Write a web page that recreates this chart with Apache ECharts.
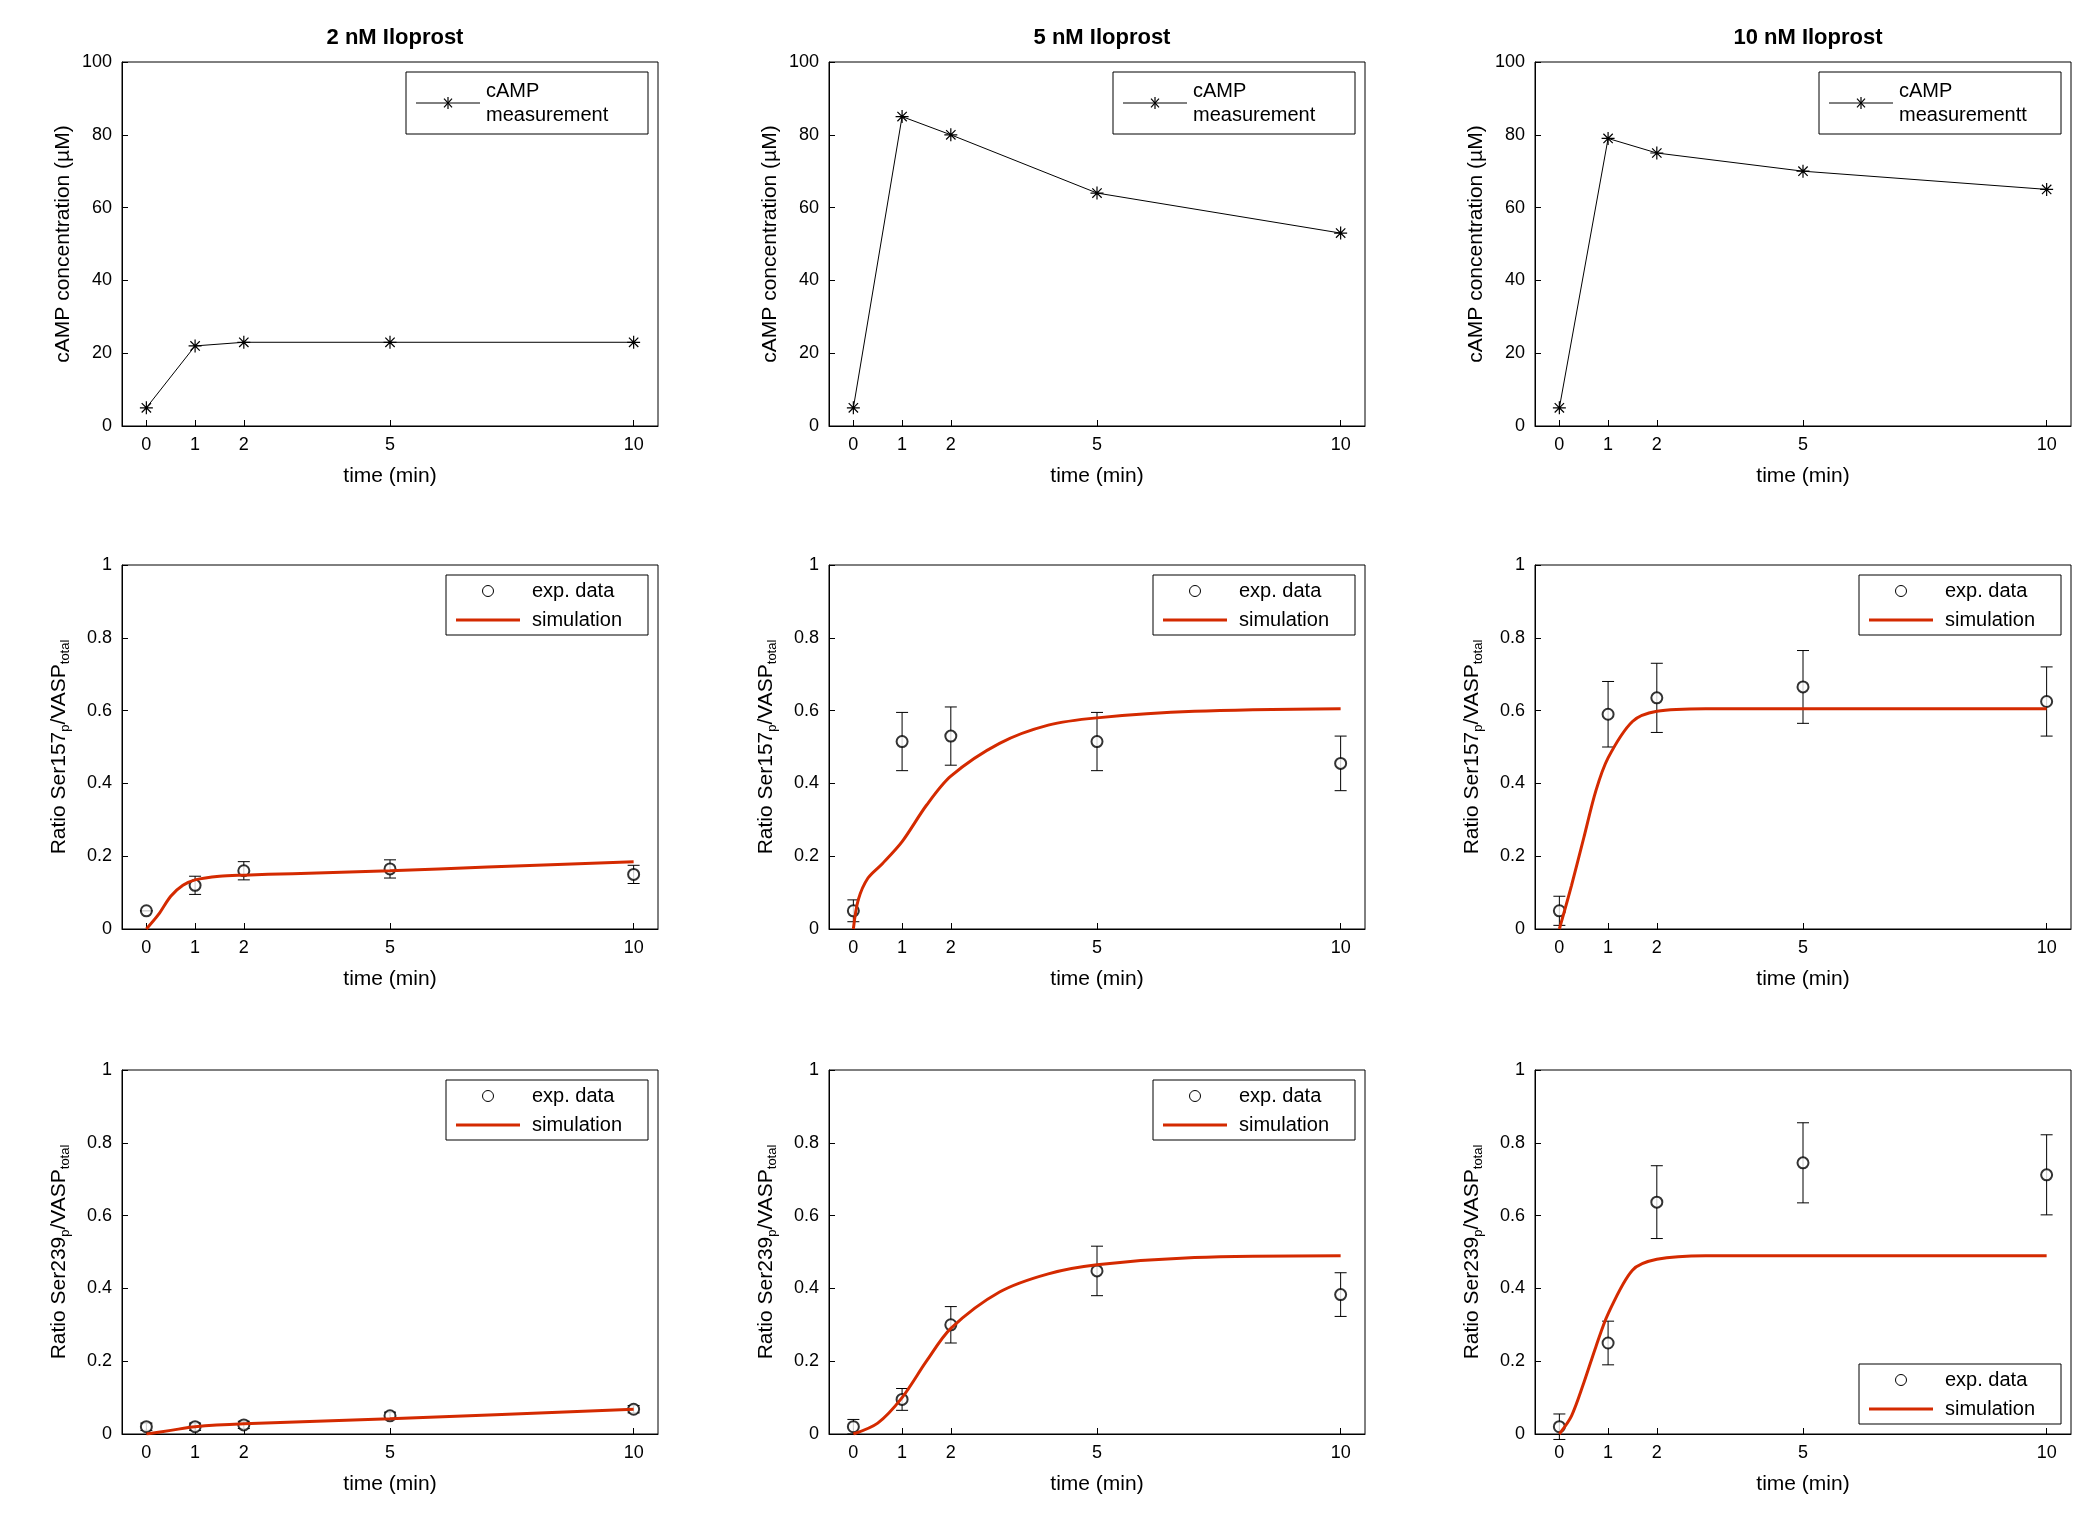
<!DOCTYPE html>
<html><head><meta charset="utf-8">
<script src="https://cdn.jsdelivr.net/npm/echarts@6/dist/echarts.min.js"></script>
<style>html,body{margin:0;background:#fff}#c{width:2095px;height:1514px}</style>
</head><body><div id="c"></div>
<script>
// data
const times = [0, 1, 2, 5, 10]
const tickTimes = [0, 1, 2, 5, 10]
const titles = ['2 nM Iloprost', '5 nM Iloprost', '10 nM Iloprost']

const camp2 = [5, 22, 23, 23, 23]
const camp5 = [5, 85, 80, 64, 53]
const camp10 = [5, 79, 75, 70, 65]
const campLegend = ['cAMP\nmeasurement', 'cAMP\nmeasurement', 'cAMP\nmeasurementt']

const s157exp2 = [0.05, 0.12, 0.16, 0.165, 0.15]
const s157err2 = [0, 0.025, 0.025, 0.025, 0.025]
const s157exp5 = [0.05, 0.515, 0.53, 0.515, 0.455]
const s157err5 = [0.03, 0.08, 0.08, 0.08, 0.075]
const s157exp10 = [0.05, 0.59, 0.635, 0.665, 0.625]
const s157err10 = [0.04, 0.09, 0.095, 0.1, 0.095]
const s157sim2 = [[0,0],[0.25,0.04],[0.5,0.09],[0.75,0.12],[1,0.135],[1.5,0.145],[2,0.148],[3,0.152],[5,0.16],[7,0.17],[10,0.185]]
const s157sim5 = [[0,0],[0.1,0.08],[0.3,0.14],[0.6,0.18],[1,0.24],[1.5,0.34],[2,0.42],[3,0.51],[4,0.56],[5,0.58],[7,0.598],[10,0.605]]
const s157sim10 = [[0,0],[0.25,0.12],[0.5,0.25],[0.75,0.38],[1,0.47],[1.5,0.57],[2,0.598],[3,0.605],[10,0.605]]

const s239exp2 = [0.02, 0.02, 0.025, 0.05, 0.068]
const s239err2 = [0.01, 0.01, 0.01, 0.01, 0.01]
const s239exp5 = [0.02, 0.095, 0.3, 0.448, 0.383]
const s239err5 = [0.02, 0.03, 0.05, 0.068, 0.06]
const s239exp10 = [0.02, 0.25, 0.637, 0.745, 0.712]
const s239err10 = [0.035, 0.06, 0.1, 0.11, 0.11]
const s239sim2 = [[0,0],[0.5,0.01],[1,0.02],[2,0.028],[5,0.042],[10,0.068]]
const s239sim5 = [[0,0],[0.5,0.03],[1,0.1],[1.5,0.2],[2,0.29],[3,0.39],[4,0.44],[5,0.465],[7,0.485],[10,0.49]]
const s239sim10 = [[0,0],[0.25,0.05],[0.5,0.14],[0.75,0.24],[1,0.33],[1.5,0.45],[2,0.48],[3,0.49],[10,0.49]]

const F = 'Liberation Sans, Arial, sans-serif'
const colL = [122, 829, 1535], colW = 536
const rowT = [62, 565, 1070], rowH = 364
const RED = '#d42a00'
const star = 'path://M0,-5L0,5M-5,0L5,0M-3.6,-3.6L3.6,3.6M-3.6,3.6L3.6,-3.6'

const grids = [], xAxes = [], yAxes = [], series = [], titleArr = []
const rich = {sub: {fontSize: 13, fontFamily: F, verticalAlign: 'bottom', padding: [12, 0, 0, 0]}, n: {fontSize: 21, fontFamily: F}}

function addPanel(r, c, ymax, yint, yname) {
  const i = grids.length
  grids.push({left: colL[c], top: rowT[r], width: colW, height: rowH, show: true, borderColor: '#000', borderWidth: 1})
  const tick = {show: true, inside: true, length: 6, lineStyle: {color: '#000'}}
  xAxes.push({gridIndex: i, type: 'value', min: -0.5, max: 10.5,
    axisLine: {onZero: false, lineStyle: {color: '#000'}}, splitLine: {show: false},
    axisTick: Object.assign({customValues: tickTimes}, tick),
    axisLabel: {customValues: tickTimes, color: '#000', fontSize: 18, fontFamily: F, margin: 10},
    name: 'time (min)', nameLocation: 'middle', nameGap: 40, nameTextStyle: {color: '#000', fontSize: 21, fontFamily: F}})
  yAxes.push({gridIndex: i, type: 'value', min: 0, max: ymax, interval: yint,
    axisLine: {onZero: false, lineStyle: {color: '#000'}}, splitLine: {show: false}, axisTick: tick,
    axisLabel: {color: '#000', fontSize: 18, fontFamily: F, margin: 10},
    name: yname, nameLocation: 'middle', nameGap: r === 0 ? 48 : 50, nameRotate: 90,
    nameTextStyle: {color: '#000', fontSize: 21, fontFamily: F, rich: rich}})
  return i
}

function errSeries(i, vals, errs) {
  return {type: 'custom', xAxisIndex: i, yAxisIndex: i, silent: true, z: 3,
    data: times.map((t, k) => [t, vals[k] - errs[k], vals[k] + errs[k]]),
    renderItem: (p, api) => {
      const lo = api.coord([api.value(0), api.value(1)])
      const hi = api.coord([api.value(0), api.value(2)])
      const w = 6, st = {stroke: '#000', lineWidth: 1}
      return {type: 'group', children: [
        {type: 'line', shape: {x1: lo[0], y1: lo[1], x2: hi[0], y2: hi[1]}, style: st},
        {type: 'line', shape: {x1: lo[0] - w, y1: lo[1], x2: lo[0] + w, y2: lo[1]}, style: st},
        {type: 'line', shape: {x1: hi[0] - w, y1: hi[1], x2: hi[0] + w, y2: hi[1]}, style: st}]}
    }}
}

const campSets = [camp2, camp5, camp10]
campSets.forEach((d, c) => {
  const i = addPanel(0, c, 100, 20, 'cAMP concentration (µM)')
  titleArr.push({text: titles[c], left: colL[c] + colW / 2, top: 22, textAlign: 'center',
    textStyle: {fontSize: 22, fontWeight: 'bold', fontFamily: F, color: '#000'}})
  series.push({type: 'line', name: campLegend[c], xAxisIndex: i, yAxisIndex: i,
    data: times.map((t, k) => [t, d[k]]), symbol: star, symbolSize: 13,
    lineStyle: {color: '#000', width: 1}, itemStyle: {color: 'none', borderColor: '#000', borderWidth: 1.2}})
})

const rows = [
  ['{n|Ratio Ser157}{sub|p}{n|/VASP}{sub|total}', [s157exp2, s157exp5, s157exp10], [s157err2, s157err5, s157err10], [s157sim2, s157sim5, s157sim10]],
  ['{n|Ratio Ser239}{sub|p}{n|/VASP}{sub|total}', [s239exp2, s239exp5, s239exp10], [s239err2, s239err5, s239err10], [s239sim2, s239sim5, s239sim10]]
]
rows.forEach((row, ri) => {
  for (let c = 0; c < 3; c++) {
    const i = addPanel(ri + 1, c, 1, 0.2, row[0])
    series.push(errSeries(i, row[1][c], row[2][c]))
    series.push({type: 'scatter', name: 'exp. data', xAxisIndex: i, yAxisIndex: i,
      data: times.map((t, k) => [t, row[1][c][k]]), symbol: 'emptyCircle', symbolSize: 11,
      itemStyle: {color: '#000', borderColor: '#000', borderWidth: 1}, z: 4})
    series.push({type: 'line', name: 'simulation', xAxisIndex: i, yAxisIndex: i, data: row[3][c],
      smooth: 0.3, showSymbol: false, lineStyle: {color: RED, width: 3}, itemStyle: {color: RED}, z: 5})
  }
})

// per-panel legend boxes, drawn as graphic groups
const g = []
function drawLegend(gridIdx, entries, bottom) {
  const gr = grids[gridIdx]
  const two = entries[0].text.indexOf('\n') >= 0
  const w = two ? 242 : 202
  const h = two ? 62 : 60
  const x = gr.left + gr.width - w - 10
  const y = bottom ? gr.top + gr.height - h - 10 : gr.top + 10
  const kids = [{type: 'rect', shape: {x: 0, y: 0, width: w, height: h}, style: {fill: '#fff', stroke: '#000', lineWidth: 1}}]
  entries.forEach((e, k) => {
    const cy = entries.length === 1 ? h / 2 : 16 + k * 29
    if (e.kind === 'star') {
      const st = {stroke: '#000', lineWidth: 1.2}
      kids.push({type: 'line', shape: {x1: 10, y1: cy, x2: 74, y2: cy}, style: {stroke: '#000', lineWidth: 1}})
      kids.push({type: 'line', shape: {x1: 42, y1: cy - 6, x2: 42, y2: cy + 6}, style: st})
      kids.push({type: 'line', shape: {x1: 38, y1: cy - 4.3, x2: 46, y2: cy + 4.3}, style: st})
      kids.push({type: 'line', shape: {x1: 38, y1: cy + 4.3, x2: 46, y2: cy - 4.3}, style: st})
      kids.push({type: 'text', x: 80, y: cy, style: {text: e.text, fontSize: 20, fontFamily: F, fill: '#000', verticalAlign: 'middle', lineHeight: 24}})
    } else {
      if (e.kind === 'circle') kids.push({type: 'circle', shape: {cx: 42, cy: cy, r: 5.5}, style: {fill: 'none', stroke: '#000', lineWidth: 1}})
      else kids.push({type: 'line', shape: {x1: 10, y1: cy, x2: 74, y2: cy}, style: {stroke: RED, lineWidth: 3}})
      kids.push({type: 'text', x: 86, y: cy, style: {text: e.text, fontSize: 20, fontFamily: F, fill: '#000', verticalAlign: 'middle'}})
    }
  })
  g.push({type: 'group', x: x, y: y, z: 100, children: kids})
}
for (let c = 0; c < 3; c++) drawLegend(c, [{kind: 'star', text: campLegend[c]}], false)
for (let i = 3; i < 9; i++) drawLegend(i, [{kind: 'circle', text: 'exp. data'}, {kind: 'red', text: 'simulation'}], i === 8)

const chart = echarts.init(document.getElementById('c'))
chart.setOption({
  animation: false, backgroundColor: '#fff', title: titleArr,
  grid: grids, xAxis: xAxes, yAxis: yAxes, series: series, graphic: g
})
</script></body></html>
